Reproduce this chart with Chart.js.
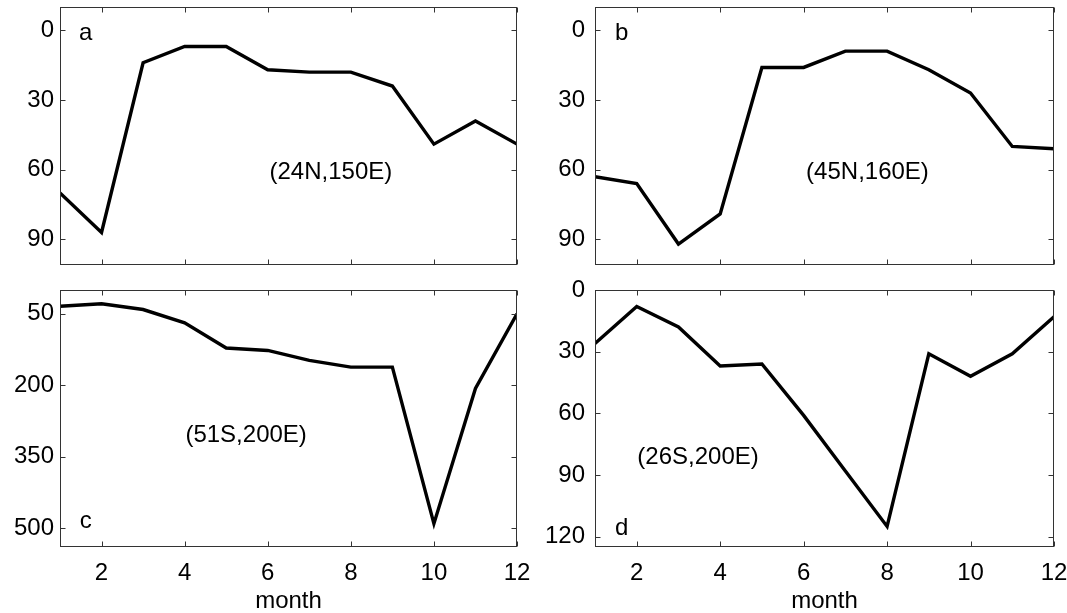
<!DOCTYPE html>
<html>
<head>
<meta charset="utf-8">
<script src="https://cdn.jsdelivr.net/npm/chart.js@4.4.1/dist/chart.umd.min.js"></script>
<style>
html, body { margin: 0; padding: 0; background: #fff; }
#wrap { position: relative; width: 1067px; height: 613px; }
#wrap canvas { position: absolute; left: 0; top: 0; }
</style>
</head>
<body>
<div id="wrap">
  <canvas id="panelA" width="1067" height="613"></canvas>
  <canvas id="panelB" width="1067" height="613"></canvas>
  <canvas id="panelC" width="1067" height="613"></canvas>
  <canvas id="panelD" width="1067" height="613"></canvas>
</div>
<script>
// months on the x axis
const months = [1, 2, 3, 4, 5, 6, 7, 8, 9, 10, 11, 12];
const monthTicks = [2, 4, 6, 8, 10, 12];

// depth values per station
const depthA = [70, 87, 14, 7, 7, 17, 18, 18, 24, 49, 39, 49];
const depthB = [63, 66, 92, 79, 16, 16, 9, 9, 17, 27, 50, 51];
const depthC = [34, 29, 41, 69, 122, 127, 148, 162, 162, 491, 207, 50];
const depthD = [26, 8, 18, 37, 36, 61, 88, 115, 31, 42, 31, 13];

// y tick labels
const ticksA = [0, 30, 60, 90];
const ticksB = [0, 30, 60, 90];
const ticksC = [50, 200, 350, 500];
const ticksD = [0, 30, 60, 90, 120];

const places = ['(24N,150E)', '(45N,160E)', '(51S,200E)', '(26S,200E)'];
const letters = ['a', 'b', 'c', 'd'];

const FONT = '"Liberation Sans", Arial, sans-serif';
Chart.defaults.font.family = FONT;
Chart.defaults.font.size = 24;
Chart.defaults.color = '#000';

// no extra room for overflowing tick labels, the boxes are placed by hand
function noPad(s) {
    s.paddingTop = 0; s.paddingBottom = 0;
    s.paddingLeft = 0; s.paddingRight = 0;
}

// MATLAB-like box with inward ticks + panel texts
const boxPlugin = {
    id: 'matlabBox',
    afterDatasetsDraw(chart, args, opts) {
        const ctx = chart.ctx;
        const a = chart.chartArea;
        const x = chart.scales.x, y = chart.scales.y;
        ctx.save();
        ctx.strokeStyle = '#333';
        ctx.lineWidth = 1;
        const L = Math.round(a.left) + 0.5, R = Math.round(a.right) - 0.5;
        const T = Math.round(a.top) + 0.5, B = Math.round(a.bottom) - 0.5;
        ctx.strokeRect(L, T, R - L, B - T);
        ctx.beginPath();
        opts.xTicks.forEach(v => {
            const px = Math.round(x.getPixelForValue(v)) + 0.5;
            ctx.moveTo(px, B); ctx.lineTo(px, B - 5);
            ctx.moveTo(px, T); ctx.lineTo(px, T + 5);
        });
        opts.yTicks.forEach(v => {
            const py = Math.round(y.getPixelForValue(v)) + 0.5;
            ctx.moveTo(L, py); ctx.lineTo(L + 5, py);
            ctx.moveTo(R, py); ctx.lineTo(R - 5, py);
        });
        ctx.stroke();

        ctx.fillStyle = '#000';
        ctx.font = '24px ' + FONT;
        ctx.textAlign = 'center';
        ctx.textBaseline = 'middle';
        ctx.fillText(opts.letter, x.getPixelForValue(opts.letterAt[0]), y.getPixelForValue(opts.letterAt[1]));
        ctx.fillText(opts.place, x.getPixelForValue(opts.placeAt[0]), y.getPixelForValue(opts.placeAt[1]));
        ctx.restore();
    }
};

function makePanel(id, values, yMin, yMax, yTicks, box, bottomRow, letter, letterAt, place, placeAt, labelPad) {
    const yWidth = 60;
    const xHeight = bottomRow ? 66 : 0;
    new Chart(document.getElementById(id), {
        type: 'line',
        data: {
            datasets: [{
                data: months.map((m, i) => ({ x: m, y: values[i] })),
                borderColor: '#000',
                borderWidth: 3.4,
                pointRadius: 0,
                tension: 0,
                fill: false
            }]
        },
        options: {
            responsive: false,
            animation: false,
            layout: {
                padding: {
                    left: box.left - yWidth,
                    right: 1067 - box.right,
                    top: box.top,
                    bottom: 613 - box.bottom - xHeight
                }
            },
            plugins: {
                legend: { display: false },
                tooltip: { enabled: false },
                matlabBox: {
                    xTicks: monthTicks, yTicks: yTicks,
                    letter: letter, letterAt: letterAt,
                    place: place, placeAt: placeAt
                }
            },
            scales: {
                x: {
                    type: 'linear',
                    min: 1, max: 12,
                    grid: { display: false, drawTicks: false },
                    border: { display: false },
                    afterBuildTicks: s => { s.ticks = monthTicks.map(v => ({ value: v })); },
                    afterFit: s => { s.height = xHeight; noPad(s); },
                    ticks: { display: bottomRow, padding: 12, maxRotation: 0, autoSkip: false },
                    title: {
                        display: bottomRow,
                        text: 'month',
                        font: { size: 24, lineHeight: 1 },
                        padding: { top: 0, bottom: 0 }
                    }
                },
                y: {
                    type: 'linear',
                    reverse: true,
                    min: yMin, max: yMax,
                    grid: { display: false, drawTicks: false },
                    border: { display: false },
                    afterBuildTicks: s => { s.ticks = yTicks.map(v => ({ value: v })); },
                    afterFit: s => { s.width = yWidth; noPad(s); },
                    ticks: { padding: labelPad, autoSkip: false }
                }
            }
        },
        plugins: [boxPlugin]
    });
}

makePanel('panelA', depthA, -10, 101, ticksA, { left: 60, right: 517, top: 7, bottom: 265 }, false,
    letters[0], [1.62, 1.3], places[0], [7.52, 61], 6);
makePanel('panelB', depthB, -10, 101, ticksB, { left: 595, right: 1054, top: 7, bottom: 265 }, false,
    letters[1], [1.64, 1.3], places[1], [7.53, 61], 10);
makePanel('panelC', depthC, 0, 540, ticksC, { left: 60, right: 517, top: 290, bottom: 547 }, true,
    letters[2], [1.62, 487], places[2], [5.48, 305], 6);
makePanel('panelD', depthD, 0, 125, ticksD, { left: 595, right: 1054, top: 290, bottom: 547 }, true,
    letters[3], [1.64, 115.8], places[3], [3.47, 81.6], 10);
</script>
</body>
</html>
